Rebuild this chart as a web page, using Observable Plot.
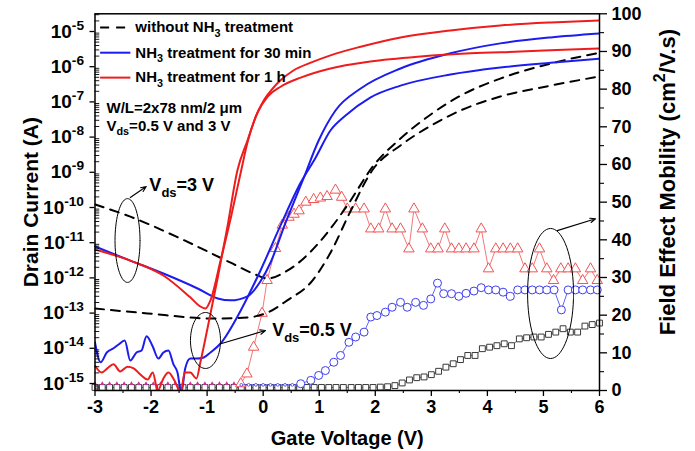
<!DOCTYPE html>
<html><head><meta charset="utf-8">
<script src="https://cdn.jsdelivr.net/npm/d3@7"></script>
<script src="https://cdn.jsdelivr.net/npm/@observablehq/plot@0.6"></script>
<style>html,body{margin:0;padding:0;background:#fff;}</style>
</head><body><div id="chart"></div>
<script>
// ---------- Drain current (A) vs gate voltage (V) ----------
// without NH3, Vds = 3 V
const vgNo3 = [-3.0,-2.37,-1.47,-0.58,-0.14,0.08,0.43,0.97,1.20,1.50,1.97,2.45,2.99,3.52,4.23,5.13,6.0];
const idNo3 = [1.22e-10,5.5e-11,1.3e-11,2.7e-12,1.25e-12,9.6e-13,1.6e-12,9e-12,2.5e-11,1.14e-10,1.56e-9,9.1e-9,4.4e-8,1.5e-7,4.6e-7,1.23e-6,2.5e-6];
// without NH3, Vds = 0.5 V
const vgNo05 = [-3.0,-2.06,-0.89,-0.28,0.08,0.43,0.85,1.25,1.52,1.97,2.45,2.99,3.52,4.23,5.13,6.0];
const idNo05 = [1.35e-13,9.8e-14,7.0e-14,7.5e-14,1.04e-13,2.3e-13,7.4e-13,7.3e-12,5.9e-11,1.28e-9,5.8e-9,2.1e-8,5.7e-8,1.42e-7,2.9e-7,5.3e-7];
// NH3 30 min, Vds = 3 V
const vgN30_3 = [-3.0,-2.37,-1.78,-1.17,-0.81,-0.58,-0.28,-0.05,0.13,0.40,0.72,0.99,1.29,1.74,2.45,3.34,4.23,5.13,6.0];
const idN30_3 = [7.8e-12,3.1e-12,1.33e-12,5.0e-13,2.6e-13,2.3e-13,3.0e-13,7.9e-13,2.7e-12,3.7e-11,6.7e-10,8.0e-9,5.7e-8,2.4e-7,8.9e-7,2.4e-6,4.6e-6,6.8e-6,8.8e-6];
// NH3 30 min, Vds = 0.5 V
const vgN30_05 = [-3.0,-2.90,-2.79,-2.67,-2.58,-2.47,-2.37,-2.26,-2.17,-2.08,-1.97,-1.87,-1.78,-1.69,-1.60,-1.53,-1.46,-1.39,-1.30,-1.19,-1.06,-0.94,-0.76,-0.40,-0.05,0.31,0.67,0.93,1.20,1.47,1.91,2.45,3.34,4.23,5.13,6.0];
const idN30_05 = [1.46e-14,4.0e-15,7.6e-15,1.0e-14,1.28e-14,1.67e-14,4.5e-15,7.6e-15,8.7e-15,2.2e-14,1.12e-14,5.1e-15,7.6e-15,8.7e-15,3.5e-15,2.1e-15,5.5e-16,2.7e-15,5.1e-15,5.1e-15,5.5e-15,7.6e-15,1.37e-14,1.19e-13,1.6e-12,3.1e-11,5.1e-10,2.5e-9,1.54e-8,4.1e-8,1.33e-7,2.9e-7,6.0e-7,9.5e-7,1.3e-6,1.7e-6];
// NH3 1 h, Vds = 3 V
const vgN1h_3 = [-3.0,-2.37,-1.78,-1.30,-1.12,-1.03,-0.94,-0.76,-0.58,-0.40,-0.28,-0.14,0.01,0.17,0.31,0.54,0.85,1.20,1.74,2.45,3.34,4.23,5.13,6.0];
const idN1h_3 = [6.4e-12,3.1e-12,1.17e-12,2.8e-13,1.54e-13,1.35e-13,2.3e-13,3.1e-12,4.9e-11,9.9e-10,7.0e-9,3.6e-8,1.1e-7,2.4e-7,4.1e-7,7.8e-7,1.3e-6,2.1e-6,3.7e-6,6.8e-6,1.07e-5,1.48e-5,1.8e-5,2.05e-5];
// NH3 1 h, Vds = 0.5 V
const vgN1h_05 = [-3.0,-2.88,-2.78,-2.67,-2.55,-2.42,-2.31,-2.19,-2.06,-1.97,-1.88,-1.78,-1.69,-1.58,-1.47,-1.40,-1.30,-1.19,-1.12,-0.99,-0.81,-0.64,-0.46,-0.28,-0.10,0.08,0.31,0.67,1.20,1.91,2.81,3.70,4.59,5.48,6.0];
const idN1h_05 = [3.2e-15,2.05e-15,2.7e-15,3.5e-15,2.2e-15,3.0e-15,2.7e-15,1.8e-15,1.3e-15,2.05e-15,6.3e-16,1.39e-15,2.05e-15,1.2e-15,5.5e-16,2.05e-15,2.05e-15,1.39e-15,4.0e-15,3.9e-14,1.03e-12,2.7e-11,1.12e-9,8.0e-9,5.0e-8,1.42e-7,2.7e-7,4.9e-7,8.9e-7,1.4e-6,1.95e-6,2.4e-6,2.7e-6,3.1e-6,3.3e-6];

// ---------- Field effect mobility (cm2/V.s) ----------
// without NH3 (squares)
const vgMuNo = [-3.00,-2.87,-2.74,-2.61,-2.48,-2.35,-2.22,-2.09,-1.96,-1.83,-1.70,-1.57,-1.43,-1.30,-1.17,-1.04,-0.91,-0.78,-0.65,-0.52,-0.39,-0.26,-0.13,0.00,0.13,0.26,0.39,0.52,0.65,0.78,0.91,1.04,1.17,1.30,1.43,1.57,1.70,1.83,1.96,2.09,2.22,2.35,2.48,2.61,2.74,2.87,3.00,3.13,3.26,3.39,3.52,3.65,3.78,3.91,4.04,4.17,4.30,4.43,4.57,4.70,4.83,4.96,5.09,5.22,5.35,5.48,5.61,5.74,5.87,6.00];
const muNo = [0.8,0.8,0.8,0.8,0.8,0.8,0.8,0.8,0.8,0.8,0.8,0.8,0.8,0.8,0.8,0.8,0.8,0.8,0.8,0.8,0.8,0.8,0.8,0.8,0.8,0.8,0.8,0.8,0.8,0.8,0.8,0.8,0.8,0.8,0.8,0.8,0.8,0.8,0.8,0.9,1.0,1.3,2.0,2.8,3.4,3.6,4.2,5.1,6.2,7.1,8.2,9.3,9.3,11.1,11.5,11.9,12.4,11.9,13.7,14.0,14.2,14.2,14.9,15.5,16.4,15.5,15.5,17.1,17.5,17.9];
// NH3 30 min (circles)
const vgMu30Floor = [-0.39,-0.26,-0.13,0.00,0.13,0.26,0.39,0.52];
const mu30Floor = [1.5,1.5,1.5,1.5,1.5,1.5,1.5,1.5];
const vgMu30 = [0.67,0.85,0.99,1.11,1.26,1.38,1.53,1.65,1.80,1.92,2.03,2.18,2.30,2.45,2.57,2.72,2.86,2.99,3.11,3.22,3.36,3.49,3.62,3.76,3.89,4.02,4.15,4.28,4.41,4.54,4.67,4.80,4.93,5.06,5.19,5.32,5.44,5.57,5.70,5.84,5.96];
const mu30 = [1.8,2.7,4.0,5.3,7.5,9.3,12.8,14.2,15.5,19.5,19.9,20.8,22.1,23.4,22.1,23.4,22.6,24.3,28.5,25.7,25.7,25.0,25.8,26.4,27.3,26.7,26.7,26.1,25.0,26.7,26.7,26.7,26.7,26.7,26.7,21.4,26.7,26.7,26.7,26.7,26.7];
// NH3 1 h (triangles)
const vgMu1hFloor = [-3.00,-2.87,-2.74,-2.61,-2.48,-2.35,-2.22,-2.09,-1.96,-1.83,-1.70,-1.57,-1.43,-1.30,-1.17,-1.04,-0.91,-0.78,-0.65,-0.52];
const mu1hFloor = [1.8,1.8,1.8,1.8,1.8,1.8,1.8,1.8,1.8,1.8,1.8,1.8,1.8,1.8,1.8,1.8,1.8,1.8,1.8,1.8];
const vgMu1h = [-0.40,-0.29,-0.17,-0.02,0.07,0.22,0.34,0.46,0.55,0.64,0.76,0.90,1.02,1.14,1.29,1.40,1.50,1.65,1.80,1.92,2.06,2.18,2.30,2.45,2.60,2.69,2.84,2.99,3.12,3.24,3.36,3.49,3.62,3.76,3.89,4.02,4.15,4.28,4.41,4.54,4.67,4.80,4.93,5.06,5.18,5.31,5.44,5.57,5.70,5.84,5.96];
const mu1h = [1.8,4.4,11.5,20.5,29.2,37.7,43.9,46.0,46.8,47.7,50.0,50.7,51.1,51.5,53.2,51.3,48.2,48.2,48.2,42.9,42.9,48.2,42.9,42.9,37.6,48.2,42.9,37.6,37.6,42.9,37.6,37.6,37.6,37.6,42.9,32.3,37.6,37.6,37.6,37.6,32.3,32.3,37.6,32.3,29.2,32.3,32.3,32.3,29.2,32.3,29.2];

// ---------- ticks ----------
const xTicks = [-3,-2,-1,0,1,2,3,4,5,6];
const xMinor = [-2.5,-1.5,-0.5,0.5,1.5,2.5,3.5,4.5,5.5];
const leftExponents = [-15,-14,-13,-12,-11,-10,-9,-8,-7,-6,-5];
const rightTicks = [0,10,20,30,40,50,60,70,80,90,100];
const rightMinor = [5,15,25,35,45,55,65,75,85,95];

// ---------- texts ----------
const legendRows = [
  {label: "without NH_{3} treatment", color: "black", dashed: true, y: 1.3e-5},
  {label: "NH_{3} treatment for 30 min", color: "#1c1cee", dashed: false, y: 2.5e-6},
  {label: "NH_{3} treatment for 1 h", color: "#ee1c1c", dashed: false, y: 4.9e-7}
];
const infoTexts = [
  {x: -2.795, y: 6.5e-8, text: "W/L=2x78 nm/2 μm"},
  {x: -2.795, y: 2.1e-8, text: "V_{ds}=0.5 V and 3 V"}
];
const annotTexts = [
  {x: -2.03, y: 4.2e-10, text: "V_{ds}=3 V"},
  {x: 0.16, y: 3.2e-14, text: "V_{ds}=0.5 V"}
];
const ellipses = [
  {cx: -2.42, cl: -10.938, rx: 0.223, rl: 1.19},
  {cx: -1.029, cl: -13.778, rx: 0.268, rl: 0.795},
  {cx: 5.127, cl: -12.443, rx: 0.41, rl: 1.847}
];
const arrows = [
  {x1: -2.37, y1: 1.92e-10, x2: -2.085, y2: 3.95e-10},
  {x1: -0.743, y1: 1.37e-14, x2: 0.042, y2: 3.2e-14},
  {x1: 5.246, y1: 2.2e-11, x2: 5.93, y2: 4.8e-11}
];

// ---------- scales ----------
const L0 = -15.199, L1 = -4.497; // log10 of current at frame bottom / top
const mobY = m => 10 ** (L0 + (m / 100) * (L1 - L0));
const mobFromY = v => (Math.log10(v) - L0) / (L1 - L0) * 100;

const pts = (vg, vals) => vg.map((v, i) => ({x: v, y: vals[i]}));
const mobPts = (vg, vals) => vg.map((v, i) => ({x: v, y: mobY(vals[i])}));

const leftMajor = leftExponents.map(e => 10 ** e);
const leftMinor = [];
for (let e = -16; e <= -5; e++) for (let k = 2; k <= 9; k++) {
  const v = k * 10 ** e;
  if (Math.log10(v) > L0 && Math.log10(v) < L1) leftMinor.push(v);
}

const RED = "#ee1c1c", BLUE = "#1c1cee";
const TRI = "#f05454", CIR = "#3e3ef0", SQ = "#3a3a3a";
const DASH = "9,7";

const curves = [
  {vg: vgNo3, id: idNo3, color: "black", dash: DASH},
  {vg: vgNo05, id: idNo05, color: "black", dash: DASH},
  {vg: vgN30_3, id: idN30_3, color: BLUE},
  {vg: vgN30_05, id: idN30_05, color: BLUE},
  {vg: vgN1h_3, id: idN1h_3, color: RED},
  {vg: vgN1h_05, id: idN1h_05, color: RED}
];

const ellipsePts = ellipses.flatMap((e, i) => d3.range(0, 361, 5).map(a => ({
  id: i,
  x: e.cx + e.rx * Math.cos(a * Math.PI / 180),
  y: 10 ** (e.cl + e.rl * Math.sin(a * Math.PI / 180))
})));

const cirLine = mobPts(vgMu30Floor.concat(vgMu30), mu30Floor.concat(mu30));
const triLine = mobPts(vgMu1h, mu1h);

const plot = Plot.plot({
  width: 695, height: 451,
  marginLeft: 94.5, marginRight: 96, marginTop: 13.3, marginBottom: 61,
  style: {fontFamily: "'Liberation Sans', Arial, sans-serif", fontWeight: "bold", color: "black", background: "white"},
  x: {domain: [-3, 6]},
  y: {type: "log", domain: [10 ** L0, 10 ** L1]},
  marks: [
    // mobility series
    Plot.line(mobPts(vgMuNo, muNo), {x: "x", y: "y", stroke: SQ, strokeWidth: 0.8}),
    Plot.dot(mobPts(vgMuNo, muNo), {x: "x", y: "y", symbol: "square", r: 3.3, stroke: SQ, fill: "white", strokeWidth: 1}),
    Plot.line(triLine, {x: "x", y: "y", stroke: TRI, strokeWidth: 0.8}),
    Plot.dot(triLine, {x: "x", y: "y", symbol: "triangle", r: 3.9, stroke: TRI, fill: "white", strokeWidth: 1}),
    Plot.dot(mobPts(vgMu1hFloor, mu1hFloor), {x: "x", y: "y", symbol: "triangle", r: 1.6, fill: "#c8309a", stroke: "none"}),
    Plot.line(cirLine, {x: "x", y: "y", stroke: CIR, strokeWidth: 0.8}),
    Plot.dot(mobPts(vgMu30Floor, mu30Floor), {x: "x", y: "y", r: 1.4, stroke: CIR, fill: "white", strokeWidth: 0.8}),
    Plot.dot(mobPts(vgMu30, mu30), {x: "x", y: "y", r: 4, stroke: CIR, fill: "white", strokeWidth: 1}),
    // drain current curves
    ...curves.map(c => Plot.line(pts(c.vg, c.id), {x: "x", y: "y", stroke: c.color, strokeWidth: 2, strokeDasharray: c.dash, curve: "monotone-x", clip: true})),
    // annotations
    Plot.line(ellipsePts, {x: "x", y: "y", z: "id", stroke: "black", strokeWidth: 1, curve: "catmull-rom"}),
    Plot.arrow(arrows, {x1: "x1", y1: "y1", x2: "x2", y2: "y2", stroke: "black", strokeWidth: 1.1, headLength: 8, headAngle: 45}),
    Plot.text(annotTexts, {x: "x", y: "y", text: "text", textAnchor: "start", lineAnchor: "middle", fontSize: 18, fontWeight: "bold"}),
    Plot.text(infoTexts, {x: "x", y: "y", text: "text", textAnchor: "start", lineAnchor: "middle", fontSize: 15, fontWeight: "bold"}),
    // legend
    Plot.ruleY(legendRows.filter(d => d.dashed), {y: "y", x1: -2.90, x2: -2.44, stroke: "color", strokeWidth: 2, strokeDasharray: DASH}),
    Plot.ruleY(legendRows.filter(d => !d.dashed), {y: "y", x1: -2.90, x2: -2.36, stroke: "color", strokeWidth: 2}),
    Plot.text(legendRows, {x: -2.28, y: "y", text: "label", textAnchor: "start", lineAnchor: "middle", fontSize: 15, fontWeight: "bold"}),
    // axes
    Plot.axisX({ticks: xTicks, tickSize: 6, tickPadding: 4, tickFormat: d => String(d), fontSize: 18, fontWeight: "bold", strokeWidth: 1.3, label: null}),
    Plot.axisX({ticks: xMinor, tickSize: 3, tickFormat: () => "", strokeWidth: 1.1, label: null}),
    Plot.axisY({anchor: "left", ticks: leftMajor, tickSize: 5, tickPadding: 6, tickFormat: d => `10^{${Math.round(Math.log10(d))}}`, fontSize: 19, fontWeight: "bold", strokeWidth: 1.3, label: null}),
    Plot.ruleY(leftMinor, {y: d => d, x1: -3, x2: -2.915, stroke: "black", strokeWidth: 0.9}),
    Plot.axisY({anchor: "right", ticks: rightTicks.map(mobY), tickSize: 7, tickPadding: 5, tickFormat: d => String(Math.round(mobFromY(d))), fontSize: 18, fontWeight: "bold", strokeWidth: 1.3, label: null}),
    Plot.axisY({anchor: "right", ticks: rightMinor.map(mobY), tickSize: 4, tickFormat: () => "", strokeWidth: 1.1, label: null}),
    Plot.text(["Drain Current (A)"], {text: d => d, frameAnchor: "left", textAnchor: "middle", lineAnchor: "middle", dx: -64, rotate: -90, fontSize: 21, fontWeight: "bold"}),
    Plot.text(["Field Effect Mobility (cm^{2}/V.s)"], {text: d => d, frameAnchor: "right", textAnchor: "middle", lineAnchor: "middle", dx: 68, dy: -20, rotate: -90, fontSize: 22, fontWeight: "bold"}),
    Plot.text(["Gate Voltage (V)"], {text: d => d, frameAnchor: "bottom", textAnchor: "middle", lineAnchor: "middle", dy: 48, fontSize: 20, fontWeight: "bold"}),
    Plot.frame({stroke: "black", strokeWidth: 1.5})
  ]
});
document.getElementById("chart").appendChild(plot);

// rich text: _{sub} and ^{sup}
function richify(root) {
  const els = Array.from(root.querySelectorAll("text, tspan"))
    .filter(el => el.children.length === 0 && /[_^]\{/.test(el.textContent));
  for (const el of els) {
    const fs = parseFloat(getComputedStyle(el).fontSize) || 16;
    const s = el.textContent;
    el.textContent = "";
    const re = /([_^])\{([^}]*)\}/g;
    let last = 0, m, shift = 0;
    const add = (txt, kind) => {
      const t = document.createElementNS("http://www.w3.org/2000/svg", "tspan");
      t.textContent = txt;
      const target = kind === "_" ? 0.3 * fs : kind === "^" ? -0.42 * fs : 0;
      const dy = target - shift;
      if (dy) t.setAttribute("dy", dy.toFixed(2));
      shift = target;
      if (kind) t.setAttribute("font-size", (0.72 * fs).toFixed(1));
      el.appendChild(t);
    };
    while ((m = re.exec(s))) {
      if (m.index > last) add(s.slice(last, m.index), null);
      add(m[2], m[1]);
      last = re.lastIndex;
    }
    if (last < s.length) add(s.slice(last), null);
  }
}
richify(plot);
</script></body></html>
